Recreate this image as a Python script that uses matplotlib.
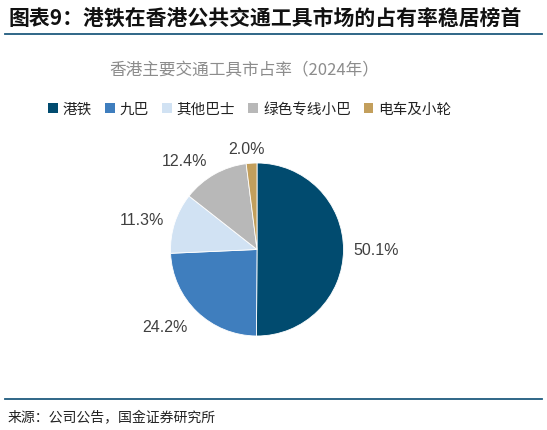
import numpy as np
import matplotlib
matplotlib.use("Agg")
import matplotlib.pyplot as plt
import matplotlib.patches as mpatches
from matplotlib.lines import Line2D

plt.rcParams['font.family'] = ['Noto Sans CJK SC', 'DejaVu Sans']

# Data
categories = ["港铁", "九巴", "其他巴士", "绿色专线小巴", "电车及小轮"]
shares = [50.1, 24.2, 11.3, 12.4, 2.0]
colors = ["#014B6F", "#3F7EBE", "#D1E2F3", "#B8B8B8", "#C39F5C"]

W, H = 547, 431
fig = plt.figure(figsize=(W / 100, H / 100), dpi=100)

# header
fig.text(8 / W, 1 - 18 / H, "图表9：港铁在香港公共交通工具市场的占有率稳居榜首",
         fontsize=15, fontweight="bold", style="italic", color="#111111",
         ha="left", va="center")
fig.add_artist(Line2D([5 / W, 542 / W], [1 - 35 / H, 1 - 35 / H],
                      color="#1F5A7E", linewidth=1.3))

fig.text(244 / W, 1 - 71 / H, "香港主要交通工具市占率（2024年）",
         fontsize=12, color="#8C8C8C", ha="center", va="center")

# pie
cx, cy, r = 257, H - 250.5, 86.5
ax = fig.add_axes([(cx - r) / W, (cy - r) / H, 2 * r / W, 2 * r / H])
wedges, texts = ax.pie(shares, colors=colors, startangle=90, counterclock=False,
                       wedgeprops=dict(edgecolor="white", linewidth=0.6))
ax.set_xlim(-1, 1)
ax.set_ylim(-1, 1)
ax.set_aspect("equal")

# label placement (best-fit style, like the original): radial distance + angle nudge
label_dist = [1.38, 1.39, 1.375, 1.33, 1.17]
label_nudge = [0, -6, 3, 9.5, 2.4]
for w, v, d, dn in zip(wedges, shares, label_dist, label_nudge):
    ang = np.deg2rad((w.theta1 + w.theta2) / 2 + dn)
    ax.text(d * np.cos(ang), d * np.sin(ang), f"{v:.1f}%",
            ha="center", va="center", fontsize=11.5, color="#404040",
            family=["Liberation Sans", "DejaVu Sans"])

handles = [mpatches.Patch(facecolor=c, edgecolor="none") for c in colors]
fig.legend(handles, categories, loc="center", bbox_to_anchor=(250 / W, 1 - 110 / H),
           ncol=5, frameon=False, fontsize=10.5, handlelength=0.65, handleheight=0.65,
           handletextpad=0.35, columnspacing=0.9, labelcolor="#222222")

# footer
fig.add_artist(Line2D([5 / W, 542 / W], [1 - 400 / H, 1 - 400 / H],
                      color="#1F5A7E", linewidth=1.3))
fig.text(8 / W, 1 - 418 / H, "来源：公司公告，国金证券研究所",
         fontsize=10, color="#222222", ha="left", va="center")

fig.savefig("out.png", dpi=100)
